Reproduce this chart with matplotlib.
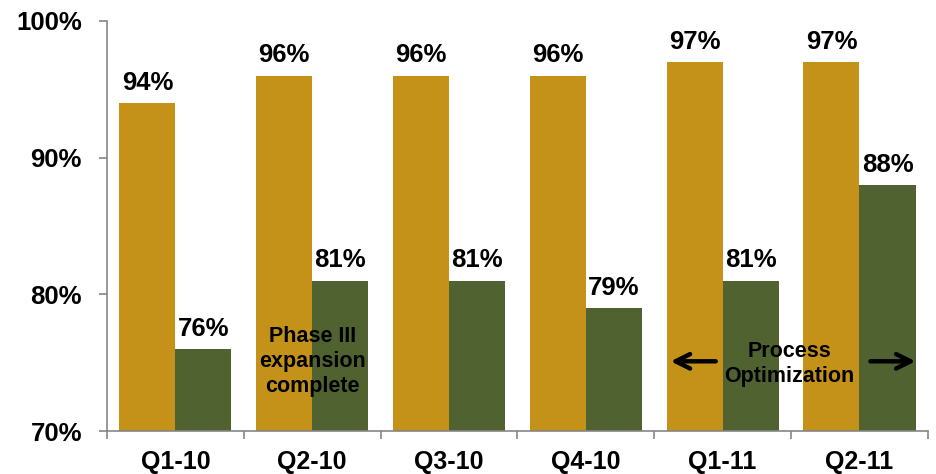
import matplotlib.pyplot as plt
import numpy as np

# Data
quarters = ["Q1-10", "Q2-10", "Q3-10", "Q4-10", "Q1-11", "Q2-11"]
series_a = [94, 96, 96, 96, 97, 97]
series_b = [76, 81, 81, 79, 81, 88]

gold = "#C49119"
green = "#4F6230"
axis_grey = "#868686"

plt.rcParams['font.family'] = ['Liberation Sans', 'DejaVu Sans']
plt.rcParams['font.weight'] = 'bold'

fig = plt.figure(figsize=(9.36, 4.74), dpi=100)
ax = fig.add_axes([0.1143, 0.0907, 0.877, 0.865])

x = np.arange(len(quarters))
w = 0.41
bars_a = ax.bar(x - w / 2, series_a, w, color=gold, bottom=0)
bars_b = ax.bar(x + w / 2, series_b, w, color=green, bottom=0)

for bars, vals in ((bars_a, series_a), (bars_b, series_b)):
    for b, v in zip(bars, vals):
        ax.annotate(f"{v}%", (b.get_x() + b.get_width() / 2, v),
                    xytext=(0, 6), textcoords="offset points",
                    ha="center", va="bottom", fontsize=18.5, fontweight="bold")

ax.set_ylim(70, 100)
ax.set_xlim(-0.5, len(quarters) - 0.5)
ax.set_yticks([70, 80, 90, 100])
ax.set_yticklabels([f"{t}%" for t in [70, 80, 90, 100]], fontsize=18.5, fontweight="bold")

# category labels centred, ticks at category boundaries
ax.set_xticks(x)
ax.set_xticklabels(quarters, fontsize=18, fontweight="bold")
ax.tick_params(axis="x", which="major", length=0, pad=14)
ax.set_xticks(np.arange(-0.5, len(quarters)), minor=True)
ax.tick_params(axis="x", which="minor", length=6, color=axis_grey, width=1.2)
ax.tick_params(axis="y", length=6, color=axis_grey, width=1.2, pad=12)

for s in ("top", "right"):
    ax.spines[s].set_visible(False)
for s in ("left", "bottom"):
    ax.spines[s].set_color(axis_grey)
    ax.spines[s].set_linewidth(1.2)

# notes
ax.text(1.0, 75.1, "Phase III\nexpansion\ncomplete", ha="center", va="center",
        fontsize=15.5, fontweight="bold", linespacing=1.25)
ax.text(4.49, 74.9, "Process\nOptimization", ha="center", va="center",
        fontsize=15.5, fontweight="bold", linespacing=1.25)
arrow = dict(arrowstyle="->", lw=3.2, color="black", mutation_scale=26)
ax.annotate("", xy=(3.6, 75.1), xytext=(3.97, 75.1), arrowprops=arrow)
ax.annotate("", xy=(5.43, 75.1), xytext=(5.06, 75.1), arrowprops=arrow)

fig.savefig("out.png", dpi=100)
